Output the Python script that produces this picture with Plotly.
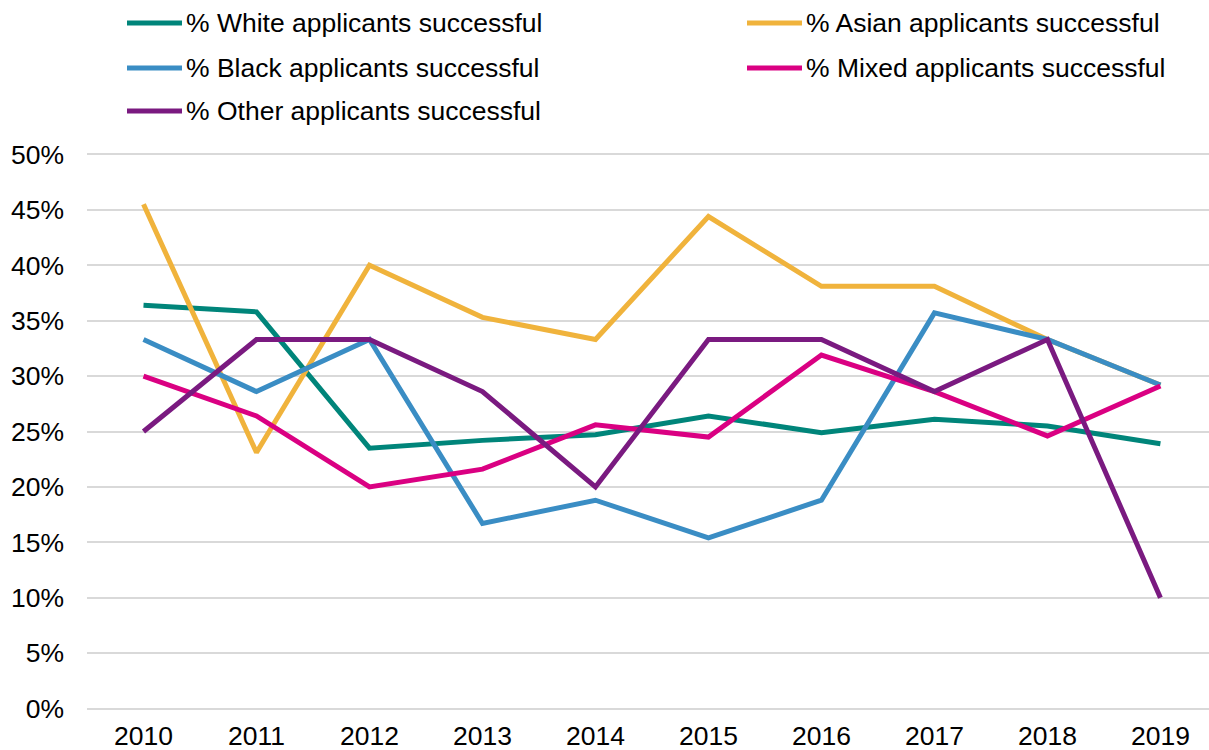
import plotly.graph_objects as go

# Success rates by ethnic group, 2010-2019 (fractions)
years = ["2010", "2011", "2012", "2013", "2014", "2015", "2016", "2017", "2018", "2019"]
white = [0.364, 0.358, 0.235, 0.242, 0.247, 0.264, 0.249, 0.261, 0.255, 0.239]
asian = [0.455, 0.231, 0.400, 0.353, 0.333, 0.444, 0.381, 0.381, 0.333, 0.292]
black = [0.333, 0.286, 0.333, 0.167, 0.188, 0.154, 0.188, 0.357, 0.333, 0.292]
mixed = [0.300, 0.264, 0.200, 0.216, 0.256, 0.245, 0.319, 0.286, 0.246, 0.291]
other = [0.250, 0.333, 0.333, 0.286, 0.200, 0.333, 0.333, 0.286, 0.333, 0.100]

series = [
    ("% White applicants successful", white, "#00857A"),
    ("% Asian applicants successful", asian, "#F0B33C"),
    ("% Black applicants successful", black, "#3A8DC4"),
    ("% Mixed applicants successful", mixed, "#DA0082"),
    ("% Other applicants successful", other, "#7A1A80"),
]

FONT = "Liberation Sans, Arial, sans-serif"
FS = 26.5
W, H = 1209, 750
ML, MR, MT, MB = 87, 0, 150, 37

fig = go.Figure()
for name, vals, color in series:
    fig.add_trace(go.Scatter(
        x=years, y=vals, mode="lines", name=name,
        line=dict(color=color, width=5),
        showlegend=False,
    ))

# Legend drawn as sample strokes + labels above the plot (two columns)
pw, ph = W - ML - MR, H - MT - MB
def px_x(p):
    return (p - ML) / pw
def px_y(p):
    return (H - MB - p) / ph

legend_pos = [(127, 23), (747, 23), (127, 68), (747, 68), (127, 111)]
for (name, _, color), (lx, ly) in zip(series, legend_pos):
    fig.add_shape(type="line", xref="paper", yref="paper",
                  x0=px_x(lx), x1=px_x(lx + 55), y0=px_y(ly), y1=px_y(ly),
                  line=dict(color=color, width=5))
    fig.add_annotation(xref="paper", yref="paper", x=px_x(lx + 57), y=px_y(ly),
                       text=name, showarrow=False, xanchor="left", yanchor="middle",
                       font=dict(family=FONT, size=FS, color="#000000"))

fig.update_layout(
    width=W, height=H,
    margin=dict(l=ML, r=MR, t=MT, b=MB),
    paper_bgcolor="white", plot_bgcolor="white",
    font=dict(family=FONT, size=FS, color="#000000"),
)
fig.update_xaxes(
    type="category", range=[-0.5, 9.43], automargin=False,
    showgrid=False, zeroline=False, showline=False,
    ticks="", ticklabelstandoff=4,
    tickfont=dict(family=FONT, size=FS, color="#000000"),
)
fig.update_yaxes(
    range=[-0.004, 0.504], tickvals=[i * 0.05 for i in range(11)], automargin=False,
    tickformat=".0%", showgrid=True, gridcolor="#D9D9D9", gridwidth=2,
    zeroline=False, showline=False, ticks="", ticklabelstandoff=22,
    tickfont=dict(family=FONT, size=FS, color="#000000"),
)

fig.write_html("out.html")
